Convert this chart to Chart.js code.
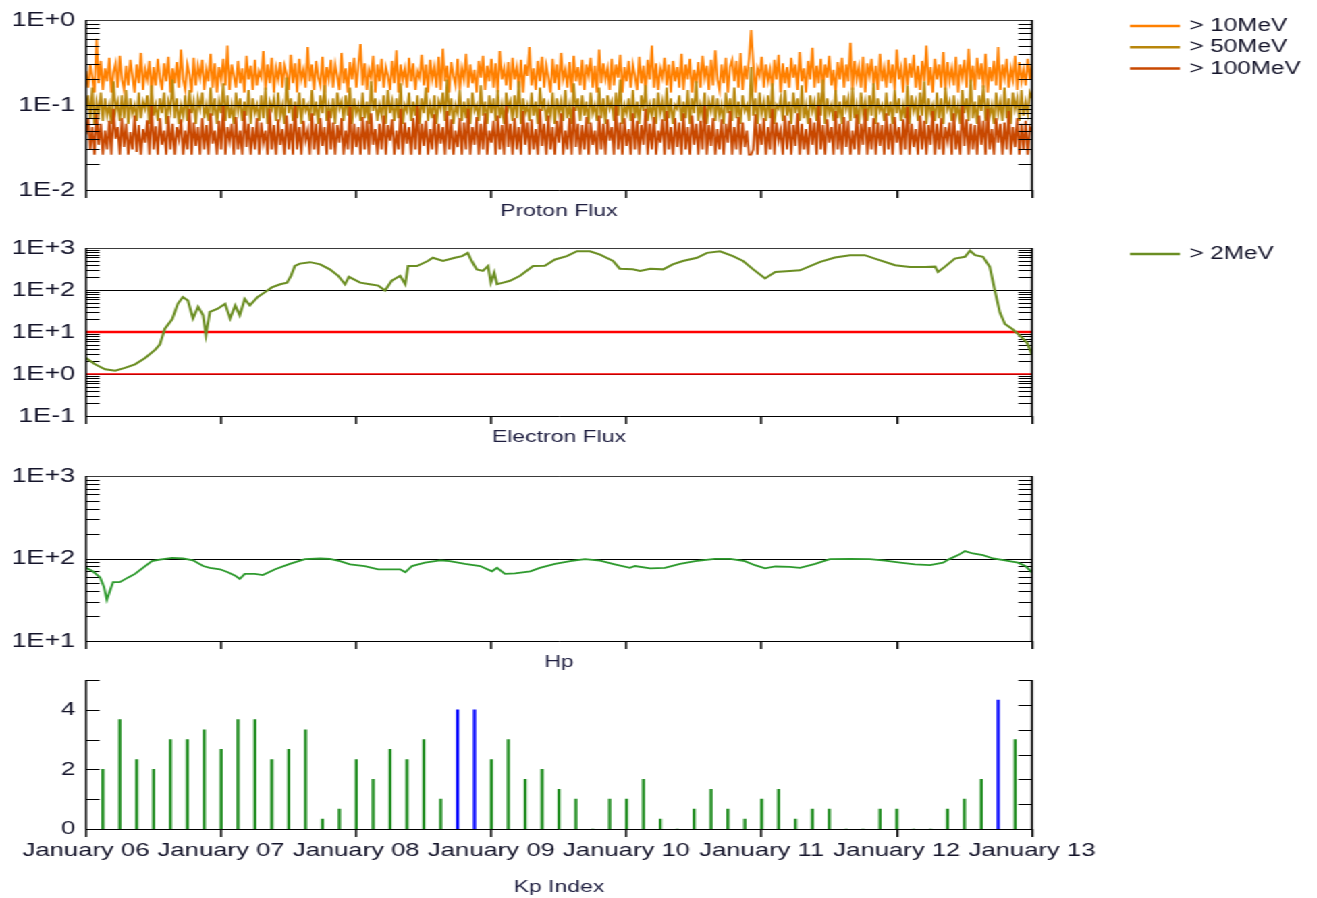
<!DOCTYPE html>
<html>
<head>
<meta charset="utf-8">
<title>Proton / Electron / Hp / Kp</title>
<script src="https://cdn.jsdelivr.net/npm/chart.js@4.4.0/dist/chart.umd.min.js"></script>
<style>
  html, body { margin: 0; background: #fff; overflow: hidden; }
  /* the source picture is stretched sideways, so the whole page is too */
  #page { position: absolute; left: 0; top: 0; width: 976px; height: 898px; transform: scaleX(1.35); transform-origin: 0 0; }
  .panel { position: absolute; left: 0; width: 976px; }
</style>
</head>
<body>
<div id="page">
  <div class="panel" style="top:0;height:228px"><canvas id="proton"></canvas></div>
  <div class="panel" style="top:228px;height:228px"><canvas id="electron"></canvas></div>
  <div class="panel" style="top:456px;height:220px"><canvas id="hp"></canvas></div>
  <div class="panel" style="top:650px;height:248px"><canvas id="kp"></canvas></div>
</div>
<script>
// ---- data (hours from January 06 00:00) ----
const dayLabels = ['January 06', 'January 07', 'January 08', 'January 09', 'January 10', 'January 11', 'January 12', 'January 13'];
const HOURS = 168;

const protonStep = 0.375; // hours between proton samples
const proton10 = [
  0.25,0.16,0.3,0.21,0.14,0.6,0.18,0.33,0.15,0.27,0.19,0.36,0.14,0.24,0.31,0.16,0.38,0.2,0.15,0.29,
  0.17,0.34,0.22,0.14,0.3,0.18,0.41,0.15,0.26,0.2,0.33,0.14,0.28,0.17,0.35,0.21,0.15,0.31,0.19,0.37,
  0.14,0.27,0.18,0.32,0.16,0.45,0.2,0.15,0.3,0.23,0.14,0.36,0.17,0.29,0.21,0.34,0.15,0.26,0.19,0.4,
  0.16,0.31,0.14,0.28,0.2,0.35,0.17,0.5,0.15,0.3,0.22,0.16,0.33,0.18,0.27,0.14,0.38,0.2,0.29,0.15,
  0.34,0.17,0.25,0.21,0.43,0.15,0.3,0.18,0.36,0.14,0.27,0.2,0.32,0.16,0.29,0.23,0.15,0.39,0.18,0.31,
  0.14,0.35,0.2,0.26,0.16,0.48,0.19,0.3,0.15,0.33,0.21,0.17,0.37,0.14,0.28,0.2,0.34,0.16,0.3,0.22,
  0.15,0.41,0.18,0.27,0.14,0.32,0.2,0.36,0.16,0.29,0.52,0.17,0.31,0.15,0.26,0.21,0.38,0.14,0.3,0.19,
  0.35,0.16,0.28,0.22,0.15,0.33,0.18,0.44,0.14,0.3,0.2,0.27,0.16,0.36,0.19,0.31,0.15,0.25,0.21,0.39,
  0.17,0.3,0.14,0.34,0.2,0.28,0.16,0.37,0.15,0.46,0.19,0.29,0.14,0.32,0.22,0.17,0.35,0.15,0.27,0.2,
  0.4,0.16,0.3,0.18,0.26,0.14,0.33,0.21,0.38,0.15,0.29,0.19,0.35,0.16,0.31,0.14,0.43,0.2,0.27,0.17,
  0.32,0.15,0.36,0.2,0.28,0.16,0.34,0.14,0.3,0.22,0.48,0.17,0.27,0.15,0.33,0.19,0.37,0.16,0.29,0.21,
  0.14,0.35,0.18,0.3,0.15,0.41,0.2,0.26,0.16,0.32,0.14,0.38,0.19,0.28,0.17,0.34,0.15,0.3,0.22,0.36,
  0.16,0.29,0.14,0.45,0.18,0.31,0.2,0.27,0.15,0.35,0.17,0.3,0.21,0.39,0.14,0.28,0.19,0.33,0.16,0.3,
  0.22,0.15,0.37,0.18,0.29,0.14,0.34,0.2,0.5,0.16,0.31,0.15,0.27,0.21,0.36,0.17,0.3,0.14,0.33,0.19,
  0.28,0.16,0.4,0.15,0.3,0.2,0.35,0.14,0.26,0.18,0.32,0.16,0.38,0.21,0.29,0.15,0.34,0.17,0.44,0.2,
  0.15,0.3,0.18,0.36,0.14,0.28,0.34,0.19,0.33,0.16,0.41,0.15,0.29,0.2,0.35,0.76,0.31,0.14,0.27,0.22,
  0.37,0.16,0.3,0.19,0.26,0.15,0.34,0.2,0.39,0.14,0.31,0.18,0.28,0.16,0.36,0.21,0.3,0.15,0.42,0.19,
  0.27,0.14,0.33,0.2,0.47,0.16,0.29,0.18,0.35,0.15,0.3,0.21,0.38,0.17,0.26,0.14,0.32,0.2,0.36,0.16,
  0.3,0.19,0.54,0.15,0.33,0.2,0.28,0.16,0.37,0.14,0.31,0.22,0.35,0.17,0.29,0.15,0.4,0.19,0.27,0.16,
  0.34,0.18,0.3,0.15,0.45,0.2,0.27,0.14,0.36,0.17,0.31,0.21,0.39,0.16,0.29,0.15,0.33,0.19,0.5,0.17,
  0.28,0.14,0.35,0.2,0.3,0.16,0.42,0.15,0.32,0.19,0.27,0.17,0.37,0.14,0.3,0.21,0.34,0.16,0.46,0.18,
  0.29,0.15,0.36,0.2,0.31,0.16,0.4,0.14,0.28,0.19,0.33,0.17,0.48,0.15,0.3,0.21,0.35,0.16,0.27,0.2,
  0.38,0.15,0.32,0.19,0.26,0.17,0.35,0.2,0.3
];
const proton50 = [
  0.09,0.13,0.07,0.16,0.06,0.11,0.08,0.14,0.065,0.12,0.075,0.1,0.06,0.19,0.085,0.11,0.065,0.13,0.07,0.15,
  0.06,0.12,0.08,0.1,0.065,0.14,0.07,0.11,0.09,0.13,0.06,0.17,0.075,0.1,0.065,0.12,0.08,0.14,0.06,0.11,
  0.085,0.2,0.07,0.12,0.06,0.1,0.075,0.13,0.065,0.15,0.08,0.11,0.06,0.12,0.09,0.14,0.07,0.1,0.065,0.16,
  0.075,0.12,0.06,0.11,0.08,0.18,0.065,0.13,0.07,0.1,0.06,0.14,0.085,0.12,0.065,0.11,0.075,0.15,0.06,0.12,
  0.08,0.1,0.065,0.13,0.07,0.16,0.06,0.11,0.09,0.12,0.065,0.14,0.075,0.1,0.06,0.21,0.08,0.12,0.065,0.11,
  0.07,0.14,0.06,0.12,0.085,0.1,0.065,0.15,0.075,0.11,0.06,0.13,0.08,0.17,0.065,0.1,0.07,0.12,0.06,0.14,
  0.09,0.11,0.065,0.13,0.075,0.16,0.06,0.12,0.08,0.1,0.065,0.14,0.07,0.11,0.06,0.19,0.085,0.12,0.065,0.1,
  0.075,0.13,0.06,0.15,0.08,0.11,0.065,0.12,0.07,0.18,0.06,0.1,0.085,0.14,0.065,0.11,0.075,0.13,0.06,0.12,
  0.08,0.16,0.065,0.1,0.07,0.13,0.06,0.11,0.09,0.14,0.065,0.2,0.075,0.12,0.06,0.1,0.08,0.15,0.065,0.11,
  0.07,0.12,0.06,0.14,0.085,0.1,0.065,0.17,0.075,0.11,0.06,0.13,0.08,0.12,0.065,0.15,0.07,0.1,0.06,0.14,
  0.09,0.11,0.065,0.13,0.07,0.19,0.06,0.12,0.08,0.1,0.065,0.14,0.075,0.11,0.06,0.16,0.085,0.12,0.065,0.1,
  0.075,0.14,0.06,0.12,0.08,0.11,0.065,0.15,0.07,0.1,0.06,0.18,0.085,0.12,0.065,0.13,0.075,0.11,0.06,0.14,
  0.08,0.1,0.065,0.16,0.07,0.12,0.06,0.13,0.09,0.11,0.065,0.14,0.075,0.2,0.06,0.1,0.08,0.12,0.065,0.15,
  0.07,0.11,0.06,0.13,0.085,0.17,0.065,0.1,0.075,0.12,0.06,0.14,0.08,0.11,0.065,0.16,0.07,0.12,0.06,0.1,
  0.09,0.13,0.065,0.11,0.07,0.15,0.06,0.12,0.08,0.19,0.065,0.1,0.075,0.14,0.06,0.11,0.085,0.13,0.065,0.12,
  0.075,0.1,0.06,0.14,0.08,0.12,0.065,0.16,0.07,0.11,0.06,0.13,0.085,0.1,0.065,0.28,0.075,0.12,0.06,0.14,
  0.08,0.11,0.065,0.13,0.07,0.18,0.06,0.1,0.09,0.12,0.065,0.15,0.075,0.11,0.06,0.14,0.08,0.12,0.065,0.17,
  0.07,0.1,0.06,0.13,0.085,0.11,0.065,0.14,0.075,0.2,0.06,0.12,0.08,0.1,0.065,0.15,0.07,0.11,0.06,0.13,
  0.09,0.12,0.065,0.16,0.07,0.1,0.06,0.14,0.08,0.11,0.065,0.13,0.075,0.18,0.06,0.12,0.085,0.1,0.065,0.14,
  0.075,0.11,0.06,0.15,0.08,0.12,0.065,0.1,0.07,0.17,0.06,0.13,0.085,0.11,0.065,0.14,0.075,0.19,0.06,0.12,
  0.08,0.1,0.065,0.14,0.07,0.12,0.06,0.16,0.09,0.11,0.065,0.13,0.075,0.1,0.06,0.15,0.08,0.12,0.065,0.2,
  0.07,0.11,0.06,0.13,0.085,0.17,0.065,0.12,0.075,0.1,0.06,0.14,0.08,0.11,0.065,0.16,0.07,0.12,0.06,0.14,
  0.09,0.12,0.065,0.15,0.075,0.11,0.08,0.14,0.12
];
const proton100 = [
  0.045,0.07,0.03,0.055,0.026,0.08,0.034,0.06,0.026,0.05,0.03,0.065,0.026,0.09,0.04,0.055,0.026,0.07,0.032,0.06,
  0.026,0.048,0.03,0.075,0.028,0.058,0.026,0.052,0.036,0.066,0.026,0.1,0.03,0.056,0.026,0.07,0.034,0.05,0.026,0.074,
  0.03,0.06,0.026,0.055,0.04,0.068,0.026,0.05,0.03,0.09,0.026,0.062,0.033,0.055,0.026,0.07,0.03,0.058,0.026,0.08,
  0.035,0.05,0.026,0.065,0.03,0.1,0.026,0.055,0.038,0.06,0.026,0.072,0.03,0.05,0.026,0.085,0.032,0.06,0.026,0.055,
  0.03,0.07,0.026,0.062,0.036,0.05,0.026,0.09,0.03,0.058,0.026,0.068,0.034,0.052,0.026,0.075,0.03,0.06,0.026,0.1,
  0.03,0.055,0.026,0.065,0.038,0.05,0.026,0.08,0.03,0.06,0.026,0.07,0.033,0.055,0.026,0.085,0.03,0.062,0.026,0.058,
  0.036,0.07,0.026,0.05,0.03,0.095,0.026,0.06,0.032,0.055,0.026,0.072,0.03,0.065,0.026,0.08,0.034,0.052,0.026,0.06,
  0.03,0.075,0.026,0.058,0.038,0.068,0.026,0.05,0.03,0.09,0.026,0.062,0.035,0.055,0.026,0.07,0.03,0.1,0.026,0.06,
  0.033,0.065,0.026,0.052,0.03,0.078,0.026,0.06,0.035,0.055,0.026,0.085,0.03,0.068,0.026,0.05,0.032,0.07,0.026,0.062,
  0.03,0.09,0.026,0.055,0.034,0.072,0.026,0.06,0.03,0.08,0.026,0.05,0.036,0.065,0.026,0.075,0.03,0.058,0.026,0.1,
  0.032,0.06,0.026,0.07,0.03,0.055,0.026,0.085,0.034,0.062,0.026,0.068,0.03,0.052,0.026,0.09,0.033,0.06,0.026,0.075,
  0.03,0.055,0.026,0.065,0.036,0.08,0.026,0.05,0.03,0.07,0.026,0.095,0.032,0.06,0.026,0.058,0.03,0.072,0.026,0.062,
  0.034,0.05,0.026,0.075,0.03,0.06,0.026,0.068,0.038,0.055,0.026,0.1,0.03,0.062,0.026,0.07,0.033,0.052,0.026,0.08,
  0.03,0.065,0.026,0.058,0.034,0.09,0.026,0.06,0.03,0.072,0.026,0.05,0.036,0.068,0.026,0.085,0.03,0.055,0.026,0.07,
  0.032,0.062,0.026,0.08,0.03,0.055,0.026,0.075,0.034,0.06,0.026,0.065,0.03,0.1,0.026,0.058,0.033,0.07,0.026,0.052,
  0.03,0.068,0.026,0.06,0.036,0.085,0.026,0.055,0.03,0.072,0.026,0.062,0.032,0.05,0.026,0.026,0.03,0.078,0.026,0.06,
  0.034,0.07,0.026,0.055,0.03,0.09,0.026,0.062,0.038,0.05,0.026,0.075,0.03,0.065,0.026,0.058,0.033,0.08,0.026,0.06,
  0.03,0.052,0.026,0.07,0.034,0.062,0.026,0.1,0.03,0.058,0.026,0.068,0.036,0.055,0.026,0.085,0.03,0.06,0.026,0.072,
  0.032,0.065,0.026,0.05,0.03,0.078,0.026,0.06,0.034,0.09,0.026,0.055,0.03,0.07,0.026,0.062,0.033,0.058,0.026,0.08,
  0.03,0.06,0.026,0.072,0.036,0.055,0.026,0.068,0.03,0.095,0.026,0.06,0.032,0.052,0.026,0.075,0.03,0.065,0.026,0.058,
  0.034,0.085,0.026,0.06,0.03,0.07,0.026,0.055,0.038,0.062,0.026,0.08,0.03,0.05,0.026,0.1,0.033,0.068,0.026,0.06,
  0.03,0.058,0.026,0.075,0.034,0.065,0.026,0.09,0.03,0.052,0.026,0.07,0.036,0.06,0.026,0.062,0.03,0.085,0.026,0.055,
  0.032,0.07,0.026,0.06,0.03,0.065,0.026,0.055,0.05
];
const protonTicks = [0.01, 0.1, 1];

const electronHours = [0,1.6,3.4,5.2,6.9,8.7,10.5,12.3,13.1,14,15.3,16.3,17.2,18.1,19,19.9,20.8,21.3,22,23.4,
  24.7,25.6,26.5,27.3,28.2,29.1,30.5,31.8,33,34.5,35.7,36.4,37.1,38,39.8,41.6,43.3,44.8,46,46.7,
  48.7,50.4,51.9,53.1,54.3,55.8,56.7,57.2,58.8,60.7,61.6,63.4,65.5,66.8,67.8,68.5,69.4,70.5,71.4,71.9,
  72.5,73,74.1,75.3,77.1,79.4,81.5,83.3,85.4,87.2,89.5,91.3,93.6,94.8,97.1,98.4,100.2,102.5,104.2,106,
  108.5,110.3,112.6,114.9,116.7,118.5,120.6,122.4,125,126.8,130.4,133,135.7,138.3,140.1,143.7,146.3,149,150.8,151.3,
  152.5,154.3,156.1,157,157.9,159.3,160.5,161.4,162.3,163.2,164.5,165.9,167.1,168];
const electron2 = [2.4,1.7,1.3,1.2,1.4,1.7,2.4,3.8,5,12,20,47,68,56,21,40,25,8.5,30,36,
  47,21,43,25,61,43,68,89,115,137,150,218,373,425,460,408,310,218,137,206,
  150,137,127,97,166,218,137,373,373,490,585,490,585,640,765,490,310,285,373,150,
  260,137,150,166,218,373,380,533,640,837,837,697,490,322,310,285,322,310,408,490,
  585,765,837,640,490,310,188,270,285,294,468,593,674,674,561,390,355,355,360,268,
  355,561,617,860,674,617,355,98,29,15.5,11.8,8.1,5.6,2.9];
const electronTicks = [0.1, 1, 10, 100, 1000];
const electronThresholds = [10, 1];

const hpHours = [0,1.2,2.5,3.2,3.7,4.3,4.8,6,7.5,8.7,10.1,11.7,13.1,15.3,17.2,19,20.8,22,23.8,25.2,
  26.5,27.3,28.2,30,31.4,33.6,36.2,38.9,41.6,43.3,45.1,46.9,49.5,51.9,54,55.8,56.7,57.9,60.2,62.9,
  64.6,67.3,70,72.1,73,74.4,76.2,78.9,80.6,83.3,86,88.6,91.3,93.9,96.6,97.5,100.2,102.8,105.5,108.2,
  111.7,114.4,117,118.8,120.6,122.4,125,126.8,129.5,132.1,135.7,139.2,141.9,144.6,147.2,149.9,152.2,153.4,154.9,156.1,
  157.5,159.3,161.1,163.2,165.5,166.8,168];
const hpValues = [77,70,59,45,31.6,41.5,51.6,51.6,59,65,77,93,97,102,100,95,81,77,74,68,
  62,56.5,65,65,63,74,86,98,100,99,93,85,81,74,74,74,68,81,89,95,
  93,86,81,70,77,65,66,70,77,86,93,98,94,85,77,81,76,77,86,93,
  99,99,93,83,76,80,79,77,86,98,99,98,94,89,85,83,89,99,110,123,
  115,110,100,95,89,81,68];
const hpTicks = [10, 100, 1000];

// Kp every 3 hours, first value at 03:00 on January 06
const kpValues = [2,3.67,2.33,2,3,3,3.33,2.67, 3.67,3.67,2.33,2.67,3.33,0.33,0.67,2.33,
  1.67,2.67,2.33,3,1,4,4,2.33, 3,1.67,2,1.33,1,0,1,1,
  1.67,0.33,0,0.67,1.33,0.67,0.33,1, 1.33,0.33,0.67,0.67,0,0,0.67,0.67,
  0,0,0.67,1,1.67,4.33,3];
const kpTickLabels = ['0', '', '2', '', '4', ''];

// ---- layout helpers ----
const S = 1.35;
const PAGE_W = 976;
const PLOT_LEFT = 86 / S;
const PLOT_RIGHT = 1032 / S;
const FONT = "'Liberation Sans', Arial, sans-serif";
const TEXT = '#14142a';

Chart.defaults.font.family = FONT;
Chart.defaults.color = TEXT;
Chart.defaults.elements.point.radius = 0;
Chart.defaults.elements.line.borderWidth = 1.5;
Chart.defaults.elements.line.tension = 0;

function series(values, step) { return values.map((v, i) => ({x: i * step, y: v})); }
function pairs(xs, ys) { return xs.map((x, i) => ({x: x, y: ys[i]})); }
function expLabel(v) {
  const e = Math.round(Math.log10(v));
  return '1E' + (e < 0 ? '-' : '+') + Math.abs(e);
}
function line(ctx, x1, y1, x2, y2) { ctx.beginPath(); ctx.moveTo(x1, y1); ctx.lineTo(x2, y2); ctx.stroke(); }

function drawGrid(chart, o) {
  const {ctx, chartArea: a} = chart;
  const y = chart.scales.y;
  const L = 10;
  ctx.save();
  ctx.strokeStyle = '#000';
  ctx.lineWidth = 1;
  if (o.log) {
    const decades = y.ticks.map(t => t.value);
    decades.forEach((d, i) => {
      const p = Math.round(y.getPixelForValue(d)) + 0.5;
      if (i > 0 && i < decades.length - 1) line(ctx, a.left, p, a.right, p);
      if (i === decades.length - 1) return;
      for (let m = 2; m <= 9; m++) {
        const q = Math.round(y.getPixelForValue(d * m)) + 0.5;
        line(ctx, a.left, q, a.left + L, q);
        line(ctx, a.right - L, q, a.right, q);
      }
    });
  } else {
    y.ticks.forEach(t => {
      if (t.value <= 0) return;
      const p = Math.round(y.getPixelForValue(t.value)) + 0.5;
      line(ctx, a.left, p, a.left + L, p);
    });
    const y2 = chart.scales.y2;
    for (let v = y2.min + 1; v <= y2.max; v++) {
      const p = Math.round(y2.getPixelForValue(v)) + 0.5;
      line(ctx, a.right - L, p, a.right, p);
    }
  }
  ctx.restore();
}

function drawFrame(chart, o) {
  const {ctx, chartArea: a} = chart;
  ctx.save();
  if (o.top) {
    ctx.strokeStyle = '#3a3a3a';
    ctx.lineWidth = 1;
    line(ctx, a.left, a.top + 0.5, a.right, a.top + 0.5);
  }
  ctx.strokeStyle = '#000';
  ctx.lineWidth = 1.5;
  line(ctx, a.left, a.top, a.left, a.bottom);
  line(ctx, a.right, a.top, a.right, a.bottom);
  ctx.restore();
}

function drawLegend(chart, o) {
  if (!o.legend) return;
  const {ctx} = chart;
  const lg = o.legend;
  ctx.save();
  ctx.font = '18px ' + FONT;
  ctx.fillStyle = TEXT;
  ctx.textBaseline = 'middle';
  chart.data.datasets.filter(ds => ds.inLegend).forEach((ds, i) => {
    const yy = lg.y + i * lg.dy;
    ctx.strokeStyle = ds.borderColor;
    ctx.lineWidth = 2.5;
    line(ctx, lg.x, yy, lg.x + lg.len, yy);
    ctx.fillText(ds.label, lg.x + lg.len + 7, yy);
  });
  ctx.restore();
}

const framePlugin = {
  id: 'frame',
  beforeDatasetsDraw(chart, args, o) { if (!o.gridOnTop) drawGrid(chart, o); },
  afterDatasetsDraw(chart, args, o) {
    if (o.gridOnTop) drawGrid(chart, o);
    drawFrame(chart, o);
  },
  afterDraw(chart, args, o) { drawLegend(chart, o); }
};

const legendPos = {x: 1130 / S, len: 50 / S, y: 26, dy: 21.3};

function xAxis(title, height, titlePad, showLabels) {
  return {
    type: 'linear', min: 0, max: HOURS, offset: false,
    ticks: {
      stepSize: 24, display: showLabels, autoSkip: false, maxRotation: 0, padding: 2,
      font: {size: 19}, color: TEXT,
      callback: v => dayLabels[Math.round(v / 24)]
    },
    grid: {drawOnChartArea: false, drawTicks: true, tickLength: 8, color: '#000', lineWidth: 1.5, offset: false},
    border: {display: true, color: '#000', width: 1},
    title: {display: true, text: title, font: {size: 17}, color: '#1e1e40', padding: {top: 0, bottom: titlePad}},
    afterFit: s => { s.height = height; }
  };
}

function logAxis(tickValues) {
  return {
    type: 'logarithmic',
    min: tickValues[0], max: tickValues[tickValues.length - 1],
    afterBuildTicks: s => { s.ticks = tickValues.map(v => ({value: v})); },
    ticks: {autoSkip: false, padding: 8, font: {size: 20}, color: TEXT, callback: v => expLabel(v)},
    grid: {display: false, drawTicks: false},
    border: {display: false},
    afterFit: s => { s.width = PLOT_LEFT; }
  };
}

function options(padTop, scales, frame) {
  return {
    responsive: true, maintainAspectRatio: false, animation: false, events: [],
    layout: {padding: {top: padTop, right: PAGE_W - PLOT_RIGHT, left: 0, bottom: 0}},
    scales: scales,
    plugins: {legend: {display: false}, tooltip: {enabled: false}, frame: frame}
  };
}

// ---- Proton Flux ----
new Chart(document.getElementById('proton'), {
  type: 'line',
  data: {
    datasets: [
      {label: '> 10MeV', data: series(proton10, protonStep), borderColor: '#FF8000', borderWidth: 1.7, order: 3, inLegend: true},
      {label: '> 50MeV', data: series(proton50, protonStep), borderColor: '#B8860B', borderWidth: 1.7, order: 2, inLegend: true},
      {label: '> 100MeV', data: series(proton100, protonStep), borderColor: '#C84800', borderWidth: 1.7, order: 1, inLegend: true}
    ]
  },
  options: options(18, {x: xAxis('Proton Flux', 38, 6, false), y: logAxis(protonTicks)},
    {log: true, top: true, gridOnTop: true, legend: legendPos}),
  plugins: [framePlugin]
});

// ---- Electron Flux ----
new Chart(document.getElementById('electron'), {
  type: 'line',
  data: {
    datasets: [
      {label: '> 2MeV', data: pairs(electronHours, electron2), borderColor: '#6B8E23', borderWidth: 2, order: 0, inLegend: true}
    ].concat(electronThresholds.map((v, i) => ({
      label: 'threshold ' + v, data: [{x: 0, y: v}, {x: HOURS, y: v}],
      borderColor: '#FF0000', borderWidth: i === 0 ? 2.5 : 1.6, order: 1
    })))
  },
  options: options(17, {x: xAxis('Electron Flux', 40, 8, false), y: logAxis(electronTicks)},
    {log: true, top: true, gridOnTop: false, legend: legendPos}),
  plugins: [framePlugin]
});

// ---- Hp ----
new Chart(document.getElementById('hp'), {
  type: 'line',
  data: {
    datasets: [{label: 'Hp', data: pairs(hpHours, hpValues), borderColor: '#2E9A2E', borderWidth: 1.8}]
  },
  options: options(14, {x: xAxis('Hp', 35, 3, false), y: logAxis(hpTicks)},
    {log: true, top: true, gridOnTop: false}),
  plugins: [framePlugin]
});

// ---- Kp Index ----
new Chart(document.getElementById('kp'), {
  type: 'bar',
  data: {
    datasets: [{
      label: 'Kp',
      data: kpValues.map((v, i) => ({x: (i + 1) * 3, y: v})),
      backgroundColor: kpValues.map(v => v >= 4 ? '#0000FF' : '#1E8C1E'),
      barThickness: 1.6, borderWidth: 0
    }]
  },
  options: options(30, {
    x: xAxis('Kp Index', 69, 0, true),
    y: {
      type: 'linear', min: 0, max: 5,
      ticks: {stepSize: 1, autoSkip: false, padding: 8, font: {size: 19}, color: TEXT, callback: v => kpTickLabels[v]},
      grid: {display: false, drawTicks: false}, border: {display: false},
      afterFit: s => { s.width = PLOT_LEFT; }
    },
    y2: {type: 'linear', display: false, min: 0, max: 6}
  }, {log: false, top: false, gridOnTop: false}),
  plugins: [framePlugin]
});
</script>
</body>
</html>
